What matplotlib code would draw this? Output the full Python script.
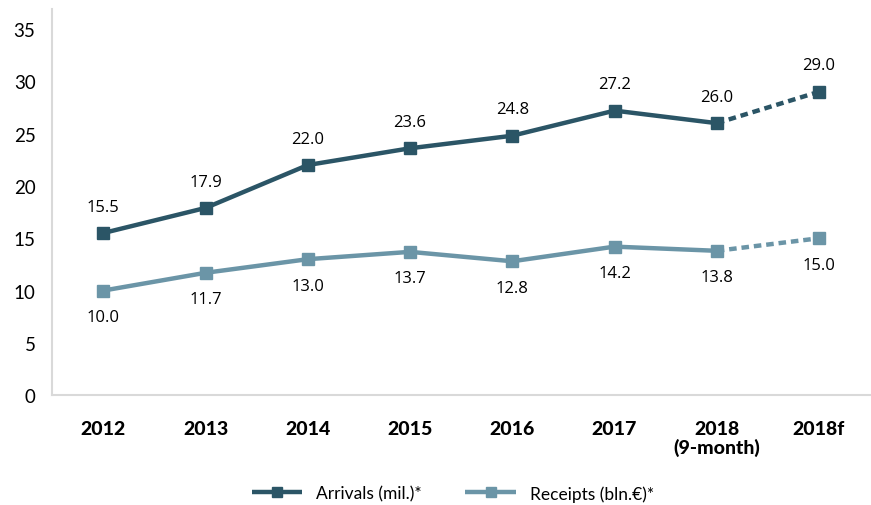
import matplotlib.pyplot as plt

years = ["2012", "2013", "2014", "2015", "2016", "2017", "2018\n(9-month)", "2018f"]
arrivals = [15.5, 17.9, 22.0, 23.6, 24.8, 27.2, 26.0, 29.0]
receipts = [10.0, 11.7, 13.0, 13.7, 12.8, 14.2, 13.8, 15.0]

arr_color = "#2b5566"
rec_color = "#6b95a7"

fig = plt.figure(figsize=(8.71, 5.06), dpi=100)
ax = fig.add_axes([0.06, 0.217, 0.939, 0.763])

x = list(range(len(years)))
n = len(years) - 1  # last point is a forecast, drawn dashed

for vals, color, label, offset in [
    (arrivals, arr_color, "Arrivals (mil.)*", 19),
    (receipts, rec_color, "Receipts (bln.€)*", -19),
]:
    ax.plot(x[:n], vals[:n], color=color, lw=3.2, marker="s", ms=8.5,
            solid_capstyle="butt", label=label)
    ax.plot(x[n - 1:], vals[n - 1:], color=color, lw=3.2, ls=(0, (1.7, 1.1)),
            marker="s", ms=8.5, markevery=[1])
    for xi, v in zip(x, vals):
        ax.annotate(f"{v:.1f}", (xi, v), xytext=(0, offset), textcoords="offset points",
                    ha="center", va="center", fontsize=12, color="black", family="Open Sans")

ax.set_xlim(-0.5, 7.5)
ax.set_ylim(0, 36.9)
ax.set_yticks(range(0, 36, 5))
ax.tick_params(axis="y", length=0, labelsize=13.5, pad=12)
ax.tick_params(axis="x", length=0, pad=18)
for t in ax.get_yticklabels():
    t.set_family("Lato")
ax.set_xticks(x)
ax.set_xticklabels(years, fontsize=14, fontweight="black", family="Lato",
                   linespacing=1.05)

for side in ["top", "right"]:
    ax.spines[side].set_visible(False)
for side in ["left", "bottom"]:
    ax.spines[side].set_color("#d9d9d9")
    ax.spines[side].set_linewidth(1.5)

fig.legend(loc="lower center", bbox_to_anchor=(0.52, -0.024), ncol=2, frameon=False,
           handlelength=2.9, columnspacing=2.5, markerscale=0.9,
           prop={"family": "Lato", "size": 12.5})

fig.savefig("out.png", dpi=100)
